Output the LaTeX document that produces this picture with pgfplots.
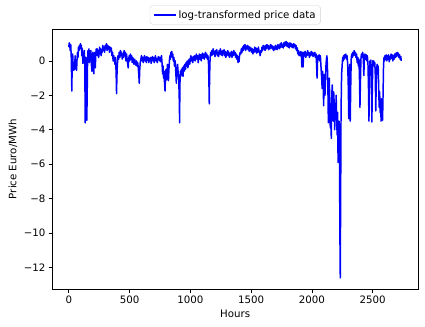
\documentclass[border=0pt]{standalone}
\usepackage{fontspec}
\setmainfont{DejaVu Sans}
\usepackage{pgfplots}
\pgfplotsset{compat=1.18}
\definecolor{mplblue}{RGB}{0,0,255}
\begin{document}
\begin{tikzpicture}
\begin{axis}[
  scale only axis,
  width=394pt, height=280pt,
  xmin=-137, xmax=2875,
  ymin=-13.26, ymax=1.85,
  xtick={0,500,1000,1500,2000,2500},
  ytick={-12,-10,-8,-6,-4,-2,0},
  yticklabels={−12,−10,−8,−6,−4,−2,0},
  xtick pos=left, ytick pos=left,
  tick align=outside,
  major tick length=3.8pt,
  tick style={black, line width=0.7pt},
  axis line style={black, line width=0.7pt},
  /pgf/number format/assume math mode=true,
  /pgf/number format/set thousands separator={},
  tick label style={font=\fontsize{11}{13}\selectfont},
  label style={font=\fontsize{11}{13}\selectfont},
  xlabel={Hours},
  ylabel={Price Euro/MWh},
  legend style={at={(0.5,1)}, anchor=south, yshift=5pt, draw=black!18, rounded corners=2pt, font=\fontsize{11}{13}\selectfont, inner sep=3pt},
  legend cell align=left,
  legend image code/.code={\draw[mplblue, line width=1.6pt] (0cm,0cm) -- (0.85cm,0cm);},
]
\addplot[draw=mplblue, line width=1.6pt, line join=round, mark=none] coordinates {
(0,0.8)(4,1.05)(8,0.9)(12,0.6)(16,0.95)(20,0.3)(25,-1.75)(28,-0.2)(32,0.4)(36,-0.3)(40,-0.55)(44,-0.1)(48,-0.5)(52,0.3)(56,-0.4)(60,-0.2)(64,-0.55)(68,0.1)(72,0.5)(76,0.2)(80,0.8)(84,0.6)(88,0.9)(92,0.7)(96,1.0)(100,0.75)(104,0.9)(108,0.3)(112,0.7)(116,-0.15)(120,0.5)(124,0.2)(128,0.6)(132,-0.3)(135,-3.6)(138,-0.5)(142,0.2)(145,-1.0)(148,-3.45)(151,-2.2)(154,-0.3)(158,0.6)(162,0.2)(166,0.7)(170,-0.1)(174,0.5)(178,0.3)(182,0.6)(186,-0.2)(190,-0.6)(194,0.2)(198,0.5)(202,-0.3)(206,-0.75)(210,0.1)(214,0.5)(218,-0.4)(222,0.3)(226,0.7)(230,0.4)(234,0.7)(238,0.3)(242,0.6)(246,0.2)(250,0.5)(254,0.8)(258,0.4)(262,0.7)(266,0.3)(270,0.6)(275,0.5)(280,0.9)(285,0.6)(290,0.8)(295,0.5)(300,0.9)(305,0.7)(310,1.0)(315,0.6)(320,0.9)(325,0.7)(330,0.85)(335,0.5)(340,0.8)(345,0.6)(350,0.75)(355,0.3)(360,0.5)(365,0.0)(370,0.3)(375,0.1)(380,-0.2)(385,0.2)(390,-0.8)(393,-1.9)(396,-0.9)(400,-0.2)(405,0.3)(410,0.1)(415,0.5)(420,0.2)(425,0.6)(430,0.3)(435,0.5)(440,0.1)(445,0.4)(450,0.2)(455,0.6)(460,0.3)(465,0.5)(470,0.0)(475,0.4)(480,0.1)(485,-0.2)(489,-0.4)(493,0.1)(497,0.3)(502,0.0)(507,0.4)(512,0.1)(517,0.3)(522,-0.1)(527,0.2)(532,0.0)(537,-0.2)(542,0.1)(547,-0.1)(552,-0.25)(557,0.0)(562,-0.3)(567,-0.1)(572,-0.4)(576,-0.8)(580,-1.3)(584,-0.5)(588,-0.1)(593,0.1)(598,0.3)(603,0.0)(608,0.2)(613,-0.1)(618,0.15)(623,0.3)(628,0.0)(633,0.2)(638,-0.1)(643,0.25)(648,0.05)(653,0.2)(658,-0.1)(663,0.15)(668,0.0)(673,0.2)(678,-0.15)(683,0.1)(688,0.25)(693,0.0)(698,0.2)(703,-0.1)(708,0.1)(713,0.3)(718,0.0)(723,0.15)(728,-0.1)(733,0.1)(738,0.25)(743,0.05)(748,0.2)(753,-0.05)(758,0.15)(763,0.3)(768,-0.2)(772,-0.75)(776,-0.3)(780,-1.0)(784,-0.6)(788,-1.3)(792,-1.75)(796,-0.9)(800,-0.5)(804,-1.1)(808,-0.7)(812,-0.2)(816,-0.75)(820,-1.15)(824,-0.5)(828,0.0)(832,0.3)(836,0.1)(840,0.5)(844,0.3)(848,0.55)(852,0.2)(856,0.4)(860,0.0)(865,0.2)(870,-0.3)(875,0.0)(880,-0.6)(885,-1.3)(890,-0.5)(895,-0.2)(900,-0.7)(905,-1.1)(910,-2.5)(912,-3.6)(914,-1.5)(918,-0.6)(922,-0.9)(926,-0.5)(930,-0.8)(935,-0.4)(940,-0.9)(945,-0.3)(950,-0.6)(955,-0.2)(960,-0.5)(965,-0.1)(970,-0.3)(975,0.0)(980,-0.4)(985,-0.1)(990,0.1)(995,-0.2)(1000,0.1)(1005,0.3)(1010,0.0)(1015,0.2)(1020,-0.1)(1025,0.25)(1030,0.05)(1035,0.3)(1040,0.0)(1045,0.2)(1050,0.4)(1055,0.1)(1060,0.3)(1065,-0.1)(1070,0.2)(1075,0.4)(1080,0.1)(1085,0.35)(1090,0.0)(1095,0.3)(1100,0.45)(1105,0.15)(1110,0.4)(1115,0.1)(1120,0.35)(1125,0.5)(1130,0.2)(1135,0.4)(1140,0.1)(1145,0.3)(1150,-0.2)(1153,-1.2)(1156,-2.5)(1159,-0.8)(1163,0.2)(1168,0.5)(1173,0.3)(1178,0.6)(1183,0.35)(1188,0.7)(1193,0.4)(1198,0.55)(1203,0.25)(1208,0.6)(1213,0.4)(1218,0.65)(1223,0.3)(1228,0.5)(1233,0.25)(1238,0.6)(1243,0.4)(1248,0.7)(1253,0.35)(1258,0.55)(1263,0.3)(1268,0.6)(1273,0.4)(1278,0.65)(1283,0.3)(1288,0.55)(1293,0.2)(1298,0.5)(1303,0.35)(1308,0.6)(1313,0.3)(1318,0.5)(1323,0.2)(1328,0.45)(1333,0.3)(1338,0.55)(1343,0.2)(1348,0.5)(1353,0.3)(1358,0.6)(1363,0.35)(1368,0.5)(1373,0.2)(1378,0.4)(1383,0.1)(1388,0.3)(1393,-0.1)(1397,0.2)(1401,-0.05)(1405,0.3)(1410,0.5)(1415,0.4)(1420,0.7)(1425,0.5)(1430,0.8)(1435,0.6)(1440,0.9)(1445,0.7)(1450,0.95)(1455,0.6)(1460,0.85)(1465,0.7)(1470,0.9)(1475,0.65)(1480,0.85)(1485,0.55)(1490,0.8)(1495,0.6)(1500,0.75)(1505,0.5)(1510,0.7)(1515,0.4)(1520,0.65)(1525,0.5)(1530,0.8)(1535,0.55)(1540,0.75)(1545,0.45)(1550,0.7)(1555,0.5)(1560,0.8)(1565,0.6)(1570,0.5)(1575,0.3)(1580,0.6)(1585,0.5)(1590,0.8)(1595,0.6)(1600,0.9)(1605,0.7)(1610,0.85)(1615,0.6)(1620,0.9)(1625,0.7)(1630,0.95)(1635,0.75)(1640,0.9)(1645,0.65)(1650,0.85)(1655,0.7)(1660,0.95)(1665,0.75)(1670,0.9)(1675,0.7)(1680,0.85)(1685,0.6)(1690,0.8)(1695,0.65)(1700,0.9)(1705,0.7)(1710,0.85)(1715,0.65)(1720,0.95)(1725,0.75)(1730,0.9)(1735,0.7)(1740,1.0)(1745,0.8)(1750,1.05)(1755,0.8)(1760,0.95)(1765,0.75)(1770,1.05)(1775,0.85)(1780,1.1)(1785,0.9)(1790,1.12)(1795,0.85)(1800,1.05)(1805,0.8)(1810,1.0)(1815,0.75)(1820,1.05)(1825,0.85)(1830,1.0)(1835,0.8)(1840,0.95)(1845,0.75)(1850,1.0)(1855,0.85)(1860,0.95)(1865,0.7)(1870,0.9)(1875,0.6)(1880,0.75)(1885,0.4)(1890,0.6)(1895,0.3)(1900,0.5)(1905,0.3)(1910,0.55)(1915,0.2)(1918,-0.35)(1921,0.3)(1925,0.5)(1928,-0.35)(1931,0.2)(1935,0.5)(1940,0.3)(1945,0.55)(1950,0.2)(1955,0.45)(1960,0.3)(1965,0.6)(1970,0.35)(1975,0.5)(1980,0.2)(1985,0.45)(1990,0.3)(1995,0.55)(2000,0.35)(2005,0.5)(2010,0.25)(2015,0.45)(2020,0.3)(2025,0.5)(2030,0.2)(2035,0.4)(2040,-0.4)(2043,-1.0)(2046,-0.2)(2050,0.3)(2055,0.1)(2060,0.35)(2065,0.0)(2070,0.3)(2075,-0.3)(2080,-0.9)(2085,-1.6)(2089,-0.6)(2093,-1.2)(2097,-2.6)(2100,-1.5)(2104,-0.8)(2108,-2.0)(2112,-1.2)(2116,-0.3)(2120,0.1)(2124,0.3)(2128,-0.2)(2132,-1.5)(2136,-3.6)(2140,-2.4)(2144,-1.0)(2148,-2.8)(2152,-3.9)(2156,-2.5)(2160,-4.5)(2164,-2.0)(2168,-1.4)(2172,-3.0)(2176,-3.5)(2180,-1.8)(2184,-2.5)(2188,-4.0)(2192,-2.8)(2196,-3.4)(2200,-2.0)(2204,-3.2)(2208,-4.3)(2212,-3.0)(2216,-5.9)(2220,-4.0)(2224,-3.5)(2228,-6.0)(2231,-10.1)(2234,-12.6)(2237,-8.0)(2240,-3.5)(2243,-1.5)(2246,-0.66)(2250,-0.2)(2254,0.2)(2258,0.0)(2262,0.3)(2266,0.1)(2270,0.35)(2275,0.2)(2280,0.4)(2285,0.1)(2290,0.3)(2295,-0.2)(2300,-1.5)(2304,-3.35)(2308,-1.0)(2312,-0.2)(2316,-3.5)(2320,-1.5)(2324,0.1)(2328,0.4)(2333,0.2)(2338,0.5)(2343,0.3)(2348,0.6)(2353,0.35)(2358,0.5)(2363,0.2)(2368,0.4)(2373,-0.1)(2378,0.2)(2383,-0.3)(2388,0.1)(2392,-1.0)(2396,-2.7)(2400,-1.2)(2404,0.1)(2408,0.4)(2413,0.2)(2418,0.5)(2423,0.3)(2428,-0.85)(2432,0.2)(2437,0.4)(2442,0.1)(2447,0.35)(2452,0.0)(2457,0.3)(2462,-0.2)(2466,-1.5)(2470,-3.5)(2474,-1.0)(2478,0.0)(2482,-0.2)(2486,0.05)(2490,-1.0)(2494,-3.55)(2498,-1.5)(2502,0.0)(2506,-0.2)(2510,0.0)(2514,-0.3)(2518,-0.1)(2522,-0.8)(2526,-2.9)(2530,-1.3)(2534,-0.37)(2538,-0.2)(2542,-0.6)(2546,-0.3)(2550,-1.5)(2554,-2.7)(2558,-1.8)(2562,-3.0)(2566,-2.5)(2570,-3.5)(2574,-2.2)(2578,-3.0)(2582,-3.45)(2586,-2.0)(2590,-0.3)(2594,0.2)(2598,0.0)(2602,0.3)(2607,0.1)(2612,0.35)(2617,0.0)(2622,0.3)(2627,0.1)(2632,0.35)(2637,-0.05)(2642,0.25)(2647,0.1)(2652,0.4)(2657,0.15)(2662,0.35)(2667,0.0)(2672,0.3)(2677,0.1)(2682,0.4)(2687,0.2)(2692,0.45)(2697,0.25)(2702,0.5)(2707,0.3)(2712,0.45)(2717,0.2)(2722,0.35)(2727,0.1)(2732,0.25)(2736,0.0)
};
\addlegendentry{log-transformed price data}
\end{axis}
\path ([shift={(-6pt,-6pt)}]current bounding box.south west) rectangle ([shift={(7pt,6pt)}]current bounding box.north east);
\end{tikzpicture}
\end{document}
